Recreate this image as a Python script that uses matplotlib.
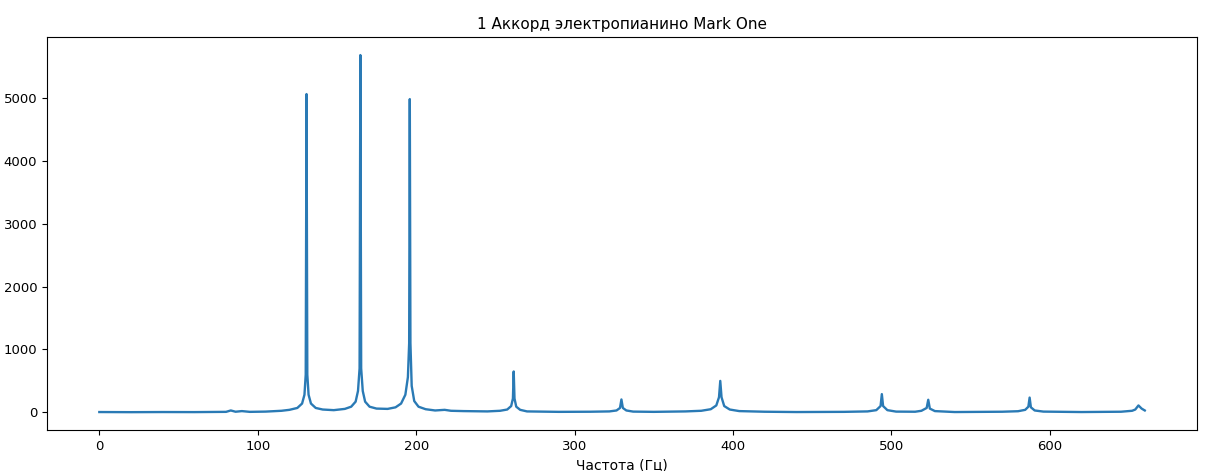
import matplotlib
matplotlib.use("Agg")
import matplotlib.pyplot as plt

plt.rcParams['font.family'] = ['DejaVu Sans']

freq = [0, 20, 40, 60, 80, 83, 86, 90, 95, 105, 115, 120, 125, 128, 129.5, 130.3, 130.8, 131.3,
        132.1, 133.6, 136.6, 141, 148, 155, 159, 161.8, 163.3, 164.3, 164.8, 165.3, 166.3,
        167.8, 170.6, 175, 182, 187, 190.5, 193.2, 194.8, 195.6, 196, 196.4, 197.2, 198.8,
        201.5, 206, 212, 218, 222, 230, 245, 253, 257.5, 260, 261.1, 261.6, 262.1, 263.2,
        265.7, 270, 290, 310, 322, 326.5, 328.7, 329.6, 330.5, 332.7, 337, 350, 370, 380,
        386, 389.5, 391.2, 392, 392.8, 394.5, 398, 404, 420, 440, 470, 485, 490.5, 493.2, 494,
        494.8, 497.5, 503, 515, 519, 522.3, 523.3, 524.3, 527.5, 540, 570, 580, 584.5, 586.5,
        587.3, 588.1, 590.5, 596, 620, 645, 652, 654, 656, 658, 660]
amp = [5, 3, 5, 4, 8, 30, 10, 20, 8, 12, 25, 40, 70, 140, 280, 600, 5060, 600,
       280, 140, 70, 45, 35, 55, 90, 170, 340, 700, 5680, 700, 340,
       170, 90, 60, 55, 80, 140, 280, 560, 1100, 4980, 1100, 420, 180,
       90, 50, 30, 40, 25, 20, 15, 25, 45, 100, 220, 650, 220, 90,
       40, 15, 8, 10, 15, 30, 70, 205, 70, 30, 12, 8, 15, 25,
       50, 110, 240, 500, 240, 100, 45, 20, 10, 5, 8, 15, 35, 100, 290,
       100, 35, 12, 10, 25, 70, 200, 60, 20, 5, 10, 18, 40, 90,
       235, 80, 30, 12, 5, 10, 25, 45, 110, 60, 30]

title = "1 Аккорд электропианино Mark One"
xlabel = "Частота (Гц)"

fig = plt.figure(figsize=(12.19, 4.71), dpi=100)
ax = fig.add_axes([0.0386, 0.087, 0.9434, 0.834])
ax.plot(freq, amp, color='#2a7ab5', linewidth=1.7)
ax.set_title(title, fontsize=11)
ax.set_xlabel(xlabel, fontsize=10)
ax.tick_params(labelsize=9.5)
fig.savefig("out.png", dpi=100)
